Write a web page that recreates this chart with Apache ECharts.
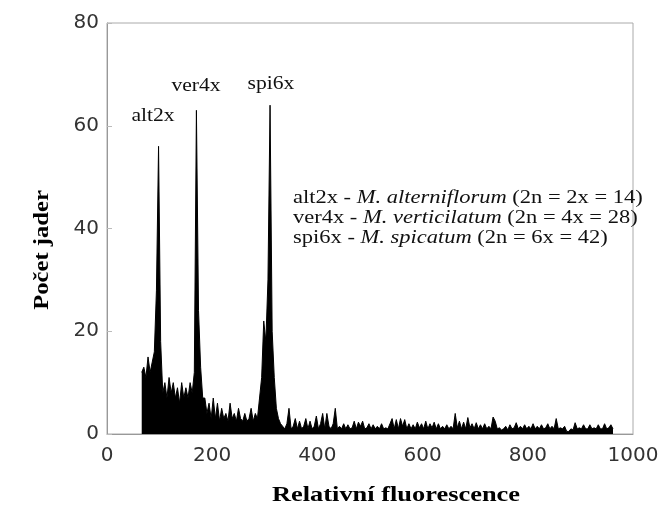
<!DOCTYPE html>
<html><head><meta charset="utf-8">
<script src="https://cdn.jsdelivr.net/npm/echarts@6/dist/echarts.min.js"></script>
<style>html,body{margin:0;padding:0;background:#fff}#c{width:662px;height:530px}</style>
</head><body><div id="c"></div>
<script>
// Histogram channels: bins of width 4 starting at fluorescence 64
const binStart = 64;
const binWidth = 4;
const counts = [
  12, 13, 11, 15, 12, 14, 16, 28, 56, 18,
  8, 10, 7, 11, 8, 10, 7, 9, 6, 10,
  7, 9, 7, 10, 8, 12, 63, 24, 13, 7,
  7, 4, 6, 3, 7, 3, 6, 2.5, 5, 3,
  4, 2.5, 6, 3, 4, 2.5, 5, 3, 2.5, 4,
  2.5, 3, 5, 2.5, 4, 3, 7, 11, 22, 18,
  30, 64, 20, 11, 5, 3,
  2, 1.5, 1, 2, 5, 1, 1.5, 3, 1, 2.5,
  1, 1.5, 3, 1, 2.5, 1, 1.5, 3.5, 1, 2,
  4, 1, 4, 1.5, 1, 2, 5, 1, 1.5, 1,
  2, 1, 1.8, 1, 1.2, 2.5, 1, 2.3, 1.5, 2.5,
  1, 1.2, 2, 1, 1.8, 1, 1.5, 1, 2, 1,
  1.2, 1, 2, 3, 1, 2.8, 1, 3, 1.5, 2.8,
  1, 2, 1, 1.8, 1, 2.3, 1.2, 2, 1, 2.5,
  1, 2, 1.2, 2.3, 1, 2, 1, 1.5, 1, 1.8,
  1, 1.5, 1, 4, 1.2, 2.5, 1, 2.3, 1, 3.2,
  1.2, 2, 1, 2.2, 1, 1.8, 1, 2, 1, 1.5,
  1, 3.3, 2.5, 1, 1.2, 0.8, 1, 1.5, 0.8, 1.8,
  1, 1.2, 2.2, 1, 1.5, 1, 1.8, 1, 1.5, 1,
  2, 1, 1.5, 1, 1.8, 1, 1.2, 2, 1, 1.5,
  1, 3, 1, 1.2, 1, 1.5, 0.5, 0.5, 1, 0.8,
  2.2, 1, 1.2, 1, 1.8, 1, 1, 1.8, 1, 1.2,
  1, 1.8, 1, 1, 2, 1, 1.2, 1.8, 1
];
const xTicks = [0, 200, 400, 600, 800, 1000];
const yTicks = [0, 20, 40, 60, 80];
const peakNames = ['alt2x', 'ver4x', 'spi6x'];
const legendCodes = ['alt2x', 'ver4x', 'spi6x'];
const legendSpecies = ['M. alterniflorum', 'M. verticilatum', 'M. spicatum'];
const legendPloidy = ['(2n = 2x = 14)', '(2n = 4x = 28)', '(2n = 6x = 42)'];
const yTitle = 'Počet jader';
const xTitle = 'Relativní fluorescence';

const seriesData = counts.map((v, i) => [binStart + binWidth * i + binWidth / 2, v]);

const serif = '"Liberation Serif","Times New Roman",serif';
const sans = '"DejaVu Sans",sans-serif';

const peakPos = [[153, 125], [196, 95], [271, 93]];
const graphics = [];
peakNames.forEach((n, i) => {
  graphics.push({type: 'text', x: peakPos[i][0], y: peakPos[i][1], scaleX: 1.2,
    style: {text: n, x: 0, y: 0, align: 'center', verticalAlign: 'bottom', fill: '#111',
      font: '18px ' + serif}});
});
const legendY = [198, 218, 238];
legendCodes.forEach((c, i) => {
  graphics.push({type: 'text', x: 293, y: legendY[i], scaleX: 1.25,
    style: {text: '{n|' + c + ' - }{i|' + legendSpecies[i] + '}{n| ' + legendPloidy[i] + '}',
      x: 0, y: 0, align: 'left', verticalAlign: 'middle',
      rich: {n: {fontFamily: serif, fontSize: 18, fill: '#111'},
             i: {fontFamily: serif, fontSize: 18, fontStyle: 'italic', fill: '#111'}}}});
});
graphics.push({type: 'text', x: 42, y: 250, rotation: Math.PI / 2, scaleX: 1.12,
  style: {text: yTitle, x: 0, y: 0, align: 'center', verticalAlign: 'middle', fill: '#000',
    font: 'bold 22px ' + serif}});
graphics.push({type: 'text', x: 396, y: 495, scaleX: 1.2,
  style: {text: xTitle, x: 0, y: 0, align: 'center', verticalAlign: 'middle', fill: '#000',
    font: 'bold 22px ' + serif}});

const chart = echarts.init(document.getElementById('c'));
chart.setOption({
  animation: false,
  backgroundColor: '#fff',
  grid: {left: 107, right: 29, top: 23, bottom: 96, show: true, borderColor: '#aaa', borderWidth: 1},
  xAxis: {type: 'value', min: xTicks[0], max: xTicks[xTicks.length - 1], interval: 200,
    splitLine: {show: false}, axisTick: {show: false},
    axisLine: {lineStyle: {color: '#999'}},
    axisLabel: {margin: 12, fontSize: 20, color: '#333', fontFamily: sans,
      formatter: v => String(v)}},
  yAxis: {type: 'value', min: yTicks[0], max: yTicks[yTicks.length - 1], interval: 20,
    splitLine: {show: false},
    axisTick: {show: true, inside: true, length: 5, lineStyle: {color: '#bbb'}},
    axisLine: {show: true, lineStyle: {color: '#999'}},
    axisLabel: {margin: 8, fontSize: 20, color: '#333', fontFamily: sans}},
  series: [{type: 'line', data: seriesData, symbol: 'none',
    lineStyle: {color: '#000', width: 1}, areaStyle: {color: '#000', opacity: 1}}],
  graphic: graphics
});
</script></body></html>
